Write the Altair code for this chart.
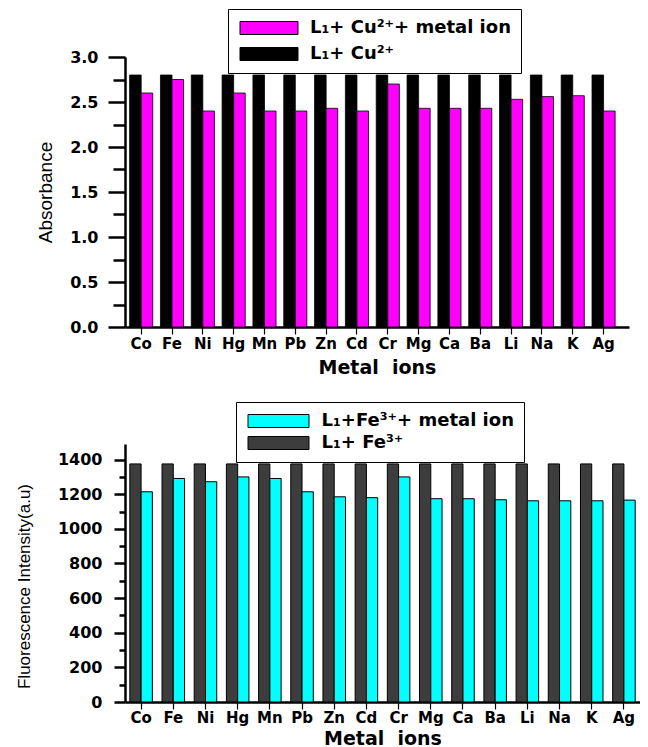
import altair as alt
import pandas as pd

# ---------------- data ----------------
ions = ["Co", "Fe", "Ni", "Hg", "Mn", "Pb", "Zn", "Cd", "Cr", "Mg", "Ca", "Ba", "Li", "Na", "K", "Ag"]

cu_series = ["L₁+ Cu²⁺+ metal ion", "L₁+ Cu²⁺"]
cu_metal = [2.60, 2.75, 2.40, 2.60, 2.40, 2.40, 2.43, 2.40, 2.70, 2.43, 2.43, 2.43, 2.53, 2.56, 2.57, 2.40]
cu_base = [2.80, 2.80, 2.80, 2.80, 2.80, 2.80, 2.80, 2.80, 2.80, 2.80, 2.80, 2.80, 2.80, 2.80, 2.80, 2.80]

fe_series = ["L₁+Fe³⁺+ metal ion", "L₁+ Fe³⁺"]
fe_metal = [1214, 1291, 1272, 1300, 1291, 1214, 1185, 1180, 1300, 1174, 1174, 1168, 1162, 1162, 1162, 1166]
fe_base = [1375, 1375, 1375, 1375, 1375, 1375, 1375, 1375, 1375, 1375, 1375, 1375, 1375, 1375, 1375, 1375]

abs_ticks = [0, 0.25, 0.5, 0.75, 1.0, 1.25, 1.5, 1.75, 2.0, 2.25, 2.5, 2.75, 3.0]
fl_ticks = [0, 100, 200, 300, 400, 500, 600, 700, 800, 900, 1000, 1100, 1200, 1300, 1400]


def long_table(base, metal, names):
    rows = []
    for ion, b, m in zip(ions, base, metal):
        rows.append({"ion": ion, "series": names[1], "value": b})
        rows.append({"ion": ion, "series": names[0], "value": m})
    return pd.DataFrame(rows)


df_cu = long_table(cu_base, cu_metal, cu_series)
df_fe = long_table(fe_base, fe_metal, fe_series)

TITLE_FONT = "Liberation Sans"
BOLD_FONT = "DejaVu Sans"
RECT_TOP = "M-4.46,-1L4.46,-1L4.46,1L-4.46,1Z"
RECT_BOT = "M-4.69,-1L4.69,-1L4.69,1L-4.69,1Z"


def x_axis(title_pad, label_pad):
    return alt.Axis(
        title="Metal\u00a0\u00a0ions", labelAngle=0, tickSize=7, tickWidth=1.2,
        labelPadding=label_pad, labelFontSize=15, titlePadding=title_pad,
        titleFont=BOLD_FONT, titleFontSize=19, titleFontWeight="bold",
        domainWidth=2.5,
    )


def legend(x, y, shape, sym_off, lab_off, row_pad):
    return alt.Legend(
        orient="none", legendX=x, legendY=y, title=None,
        symbolType=shape, symbolSize=169, symbolOffset=sym_off,
        symbolStrokeColor="black", symbolStrokeWidth=1,
        labelFont=BOLD_FONT, labelFontWeight="bold", labelFontSize=18,
        labelColor="black", labelOffset=lab_off, rowPadding=row_pad,
        strokeColor="black", padding=10, labelLimit=400,
    )


top = alt.Chart(df_cu).mark_bar(stroke="black", strokeWidth=0.8).encode(
    x=alt.X("ion:N", sort=ions,
            scale=alt.Scale(paddingInner=0.25, paddingOuter=0.3, align=0.25),
            axis=x_axis(7, 2)),
    xOffset=alt.XOffset("series:N", sort=[cu_series[1], cu_series[0]]),
    y=alt.Y("value:Q", scale=alt.Scale(domain=[0, 3.0], nice=False),
            axis=alt.Axis(
                values=abs_ticks,
                tickSize={"condition": {"test": "datum.value % 0.5 === 0", "value": 17}, "value": 12},
                labelExpr="datum.value % 0.5 === 0 ? format(datum.value, '.1f') : ''",
                labelPadding=10, labelFontSize=16, tickWidth=2.5, domainWidth=2.5,
                title="Absorbance", titleX=-70, titleFont=TITLE_FONT,
                titleFontSize=19, titleFontWeight="normal",
            )),
    color=alt.Color("series:N",
                    scale=alt.Scale(domain=cu_series, range=["#ff00ff", "#000000"]),
                    legend=legend(103, -48, RECT_TOP, 22, 32, 8)),
).properties(width=504, height=270)

bottom = alt.Chart(df_fe).mark_bar(stroke="black", strokeWidth=1).encode(
    x=alt.X("ion:N", sort=ions,
            scale=alt.Scale(paddingInner=0.3, paddingOuter=0.15),
            axis=x_axis(4, 1)),
    xOffset=alt.XOffset("series:N", sort=[fe_series[1], fe_series[0]]),
    y=alt.Y("value:Q", scale=alt.Scale(domain=[0, 1490], nice=False),
            axis=alt.Axis(
                values=fl_ticks,
                tickSize={"condition": {"test": "datum.value % 200 === 0", "value": 11}, "value": 6},
                labelExpr="datum.value % 200 === 0 ? format(datum.value, 'd') : ''",
                labelPadding=12, labelFontSize=16, tickWidth=2.5, domainWidth=2.5,
                title="Fluorescence Intensity(a.u)", titleX=-92, titleY=142,
                titleFont=TITLE_FONT, titleFontSize=17, titleFontWeight="normal",
            )),
    color=alt.Color("series:N",
                    scale=alt.Scale(domain=fe_series, range=["#00ffff", "#3d3d3d"]),
                    legend=legend(111, -42, RECT_BOT, 23.5, 34, 4)),
).properties(width=515, height=258)

chart = alt.vconcat(top, bottom, spacing=24).resolve_scale(
    color="independent", x="independent", y="independent", xOffset="independent"
).properties(
    padding={"left": 6, "top": 0, "right": 0, "bottom": 0}
).configure_view(stroke=None).configure_axis(
    labelFont=BOLD_FONT, labelFontWeight="bold", labelColor="black",
    domainColor="black", tickColor="black", titleColor="black", grid=False,
)

chart.save("out.html", embed_options={"renderer": "svg", "actions": False})
